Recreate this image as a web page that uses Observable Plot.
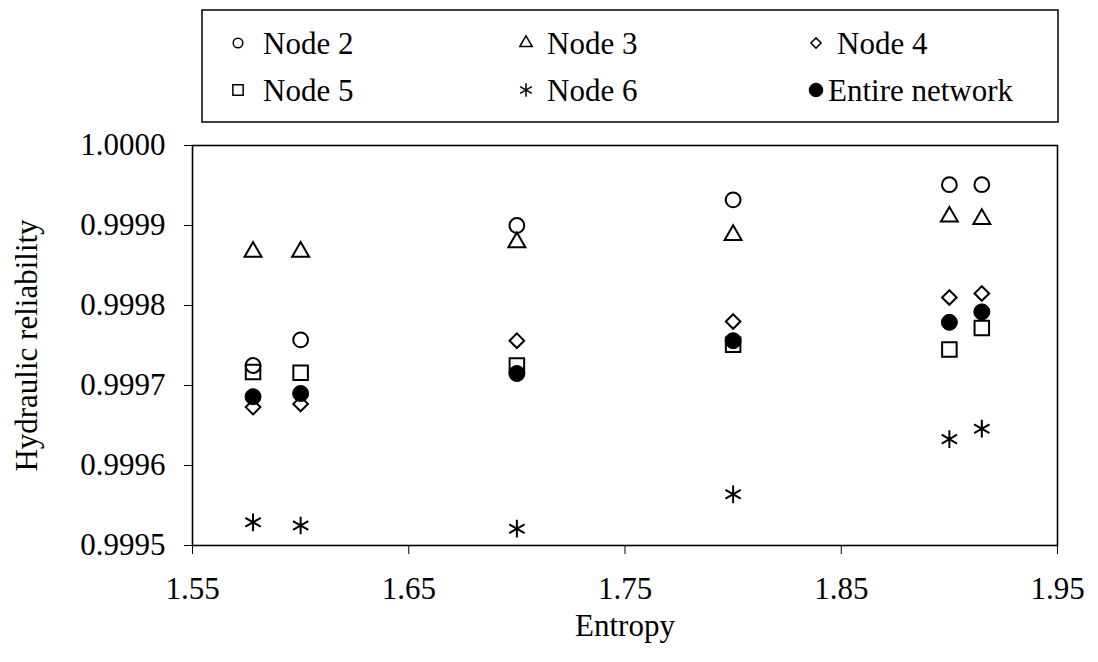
<!DOCTYPE html>
<html>
<head>
<meta charset="utf-8">
<script src="https://cdn.jsdelivr.net/npm/d3@7"></script>
<script src="https://cdn.jsdelivr.net/npm/@observablehq/plot@0.6"></script>
<style>
  html, body { margin: 0; padding: 0; background: #fff; }
  #wrap { position: relative; width: 1098px; height: 662px; background: #fff; font-family: "Liberation Serif", "Times New Roman", serif; }
  #chart { position: absolute; left: 0; top: 100px; }
  #chart svg { overflow: visible; }
  #legend { position: absolute; left: 0; top: 0; }
</style>
</head>
<body>
<div id="wrap">
  <div id="chart"></div>
  <svg id="legend" width="1098" height="130"></svg>
</div>
<script>
// ---- data ----
const entropy = [1.578, 1.600, 1.700, 1.800, 1.900, 1.915];
const node2   = [0.999725, 0.999757, 0.999900, 0.999932, 0.999951, 0.999951];
const node3   = [0.999867, 0.999867, 0.999879, 0.999888, 0.999911, 0.999908];
const node4   = [0.999673, 0.999677, 0.999756, 0.999780, 0.999810, 0.999815];
const node5   = [0.999717, 0.999716, 0.999725, 0.999751, 0.999745, 0.999772];
const node6   = [0.999529, 0.999525, 0.999521, 0.999564, 0.999633, 0.999646];
const entire  = [0.999686, 0.999690, 0.999715, 0.999756, 0.999779, 0.999792];
const seriesNames = ["Node 2", "Node 3", "Node 4", "Node 5", "Node 6", "Entire network"];
const xTicks = [1.55, 1.65, 1.75, 1.85, 1.95];
const yTicks = [0.9995, 0.9996, 0.9997, 0.9998, 0.9999, 1.0000];

const seriesValues = [node2, node3, node4, node5, node6, entire];
const styles = [
  {symbol: "circle",   r: 7.4, fill: "none",  legendR: 4.8},
  {symbol: "triangle", r: 6.3, fill: "none",  legendR: 4.6},
  {symbol: "diamond2", r: 6.6, fill: "none",  legendR: 4.6},
  {symbol: "square",   r: 8.2, fill: "none",  legendR: 5.8},
  {symbol: "asterisk", r: 8.4, fill: "none",  legendR: 6.4},
  {symbol: "circle",   r: 8.0, fill: "black", legendR: 6.8}
];

const rows = [];
seriesValues.forEach((vals, i) => {
  vals.forEach((v, j) => rows.push({series: seriesNames[i], x: entropy[j], y: v}));
});

const FONT = 31;
const marks = [Plot.frame({stroke: "black", strokeWidth: 1.6})];
seriesNames.forEach((name, i) => {
  const s = styles[i];
  marks.push(Plot.dot(rows.filter(d => d.series === name), {
    x: "x", y: "y", symbol: s.symbol, r: s.r,
    fill: s.fill, stroke: "black", strokeWidth: s.fill === "none" ? 2 : 1
  }));
});
marks.push(Plot.axisX({
  ticks: xTicks, tickFormat: d3.format(".2f"), tickSize: 9, tickPadding: 22,
  label: "Entropy", labelAnchor: "center", labelOffset: 90, labelArrow: "none"
}));
marks.push(Plot.axisY({
  ticks: yTicks, tickFormat: d3.format(".4f"), tickSize: 8, tickPadding: 19,
  label: "Hydraulic reliability", labelAnchor: "center", labelOffset: 178, labelArrow: "none"
}));

const chart = Plot.plot({
  width: 1098,
  height: 562,
  marginTop: 45,
  marginBottom: 117,
  marginLeft: 192,
  marginRight: 41,
  style: {fontFamily: '"Liberation Serif", "Times New Roman", serif', fontSize: FONT + "px", color: "black", background: "transparent"},
  x: {domain: [1.55, 1.95]},
  y: {domain: [0.9995, 1.0000]},
  marks
});
document.getElementById("chart").appendChild(chart);

// ---- legend (drawn with d3 symbols) ----
const lg = d3.select("#legend");
lg.append("rect").attr("x", 202).attr("y", 10).attr("width", 856).attr("height", 112)
  .attr("fill", "white").attr("stroke", "black").attr("stroke-width", 1.5);
const symMap = {circle: d3.symbolCircle, triangle: d3.symbolTriangle, diamond2: d3.symbolDiamond2, square: d3.symbolSquare, asterisk: d3.symbolAsterisk};
const colSym = [238, 526, 816];
const colText = [263, 547, 837];
const rowSymY = [43, 90];
const rowBase = [54, 101];
seriesNames.forEach((name, i) => {
  const col = i % 3, row = Math.floor(i / 3);
  const s = styles[i];
  const size = Math.PI * s.legendR * s.legendR;
  lg.append("path")
    .attr("d", d3.symbol(symMap[s.symbol], size)())
    .attr("transform", `translate(${colSym[col]},${rowSymY[row]})`)
    .attr("fill", s.fill).attr("stroke", "black").attr("stroke-width", s.fill === "none" ? 1.5 : 1);
  lg.append("text")
    .attr("x", name === "Entire network" ? 828 : colText[col])
    .attr("y", rowBase[row])
    .attr("font-family", '"Liberation Serif", "Times New Roman", serif')
    .attr("font-size", FONT)
    .attr("fill", "black")
    .text(name);
});
</script>
</body>
</html>
